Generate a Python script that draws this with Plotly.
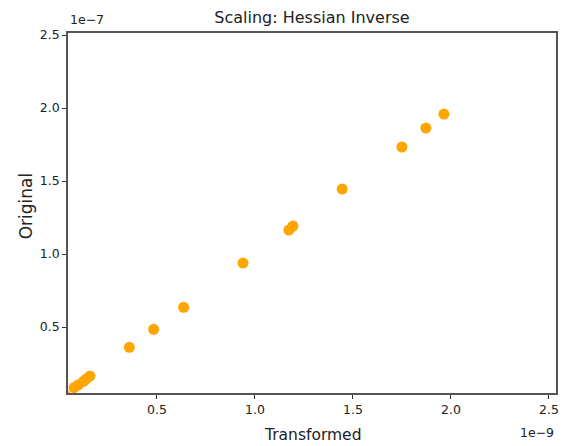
import plotly.graph_objects as go
import numpy as np

# Data (mantissas; x in units of 1e-9, y in units of 1e-7)
transformed = [0.03, 0.077, 0.10, 0.125, 0.14, 0.158, 0.359, 0.483, 0.636, 0.939,
               1.173, 1.194, 1.445, 1.75, 1.872, 1.964]
original = [0.035, 0.085, 0.105, 0.128, 0.145, 0.164, 0.361, 0.484, 0.635, 0.938,
            1.164, 1.192, 1.445, 1.733, 1.863, 1.959]
x_exp = 1e-9
y_exp = 1e-7
tick_vals = [0.5, 1.0, 1.5, 2.0, 2.5]
tick_text = ["0.5", "1.0", "1.5", "2.0", "2.5"]

x = np.array(transformed) * x_exp
y = np.array(original) * y_exp

font = "DejaVu Sans"
# page body has an 8px default margin, so the figure is sized to fit the window
W, H = 568, 438
ML, MR, MT, MB = 60, 20, 25, 53
PW, PH = W - ML - MR, H - MT - MB

fig = go.Figure()
fig.add_trace(go.Scatter(
    x=x, y=y, mode="markers",
    marker=dict(color="#FFA500", size=11, line=dict(width=0)),
    cliponaxis=True, showlegend=False,
))

axis_common = dict(
    showgrid=False, zeroline=False, showline=True, mirror=True,
    linecolor="#555555", linewidth=1.5,
    ticks="outside", ticklen=4, tickwidth=1, tickcolor="#333333",
    tickfont=dict(family=font, size=12.5, color="#222222"),
)

fig.update_layout(
    width=W, height=H,
    margin=dict(l=ML, r=MR, t=MT, b=MB),
    paper_bgcolor="white", plot_bgcolor="white",
    font=dict(family=font, color="#222222"),
    title=dict(text="Scaling: Hessian Inverse", x=(ML + PW / 2) / W, xanchor="center",
               y=1 - 9 / H, yanchor="middle", font=dict(family=font, size=16)),
    xaxis=dict(range=[0.046 * x_exp, 2.536 * x_exp],
               tickvals=[v * x_exp for v in tick_vals], ticktext=tick_text, **axis_common),
    yaxis=dict(range=[0.048 * y_exp, 2.514 * y_exp],
               tickvals=[v * y_exp for v in tick_vals], ticktext=tick_text, **axis_common),
)

fig.add_annotation(text="Transformed", xref="paper", yref="paper", x=0.5, y=-42 / PH,
                   xanchor="center", yanchor="middle", showarrow=False,
                   font=dict(family=font, size=15.5, color="#222222"))
fig.add_annotation(text="Original", xref="paper", yref="paper", x=-42.5 / PW, y=0.52,
                   xanchor="center", yanchor="middle", textangle=-90, showarrow=False,
                   font=dict(family=font, size=17, color="#222222"))
fig.add_annotation(text="1e\u22129", xref="paper", yref="paper", x=1.0, y=-39 / PH,
                   xanchor="right", yanchor="middle", showarrow=False,
                   font=dict(family=font, size=12.5, color="#222222"))
fig.add_annotation(text="1e\u22127", xref="paper", yref="paper", x=0.0, y=1 + 13 / PH,
                   xanchor="left", yanchor="middle", showarrow=False,
                   font=dict(family=font, size=12.5, color="#222222"))

fig.write_html("out.html")
